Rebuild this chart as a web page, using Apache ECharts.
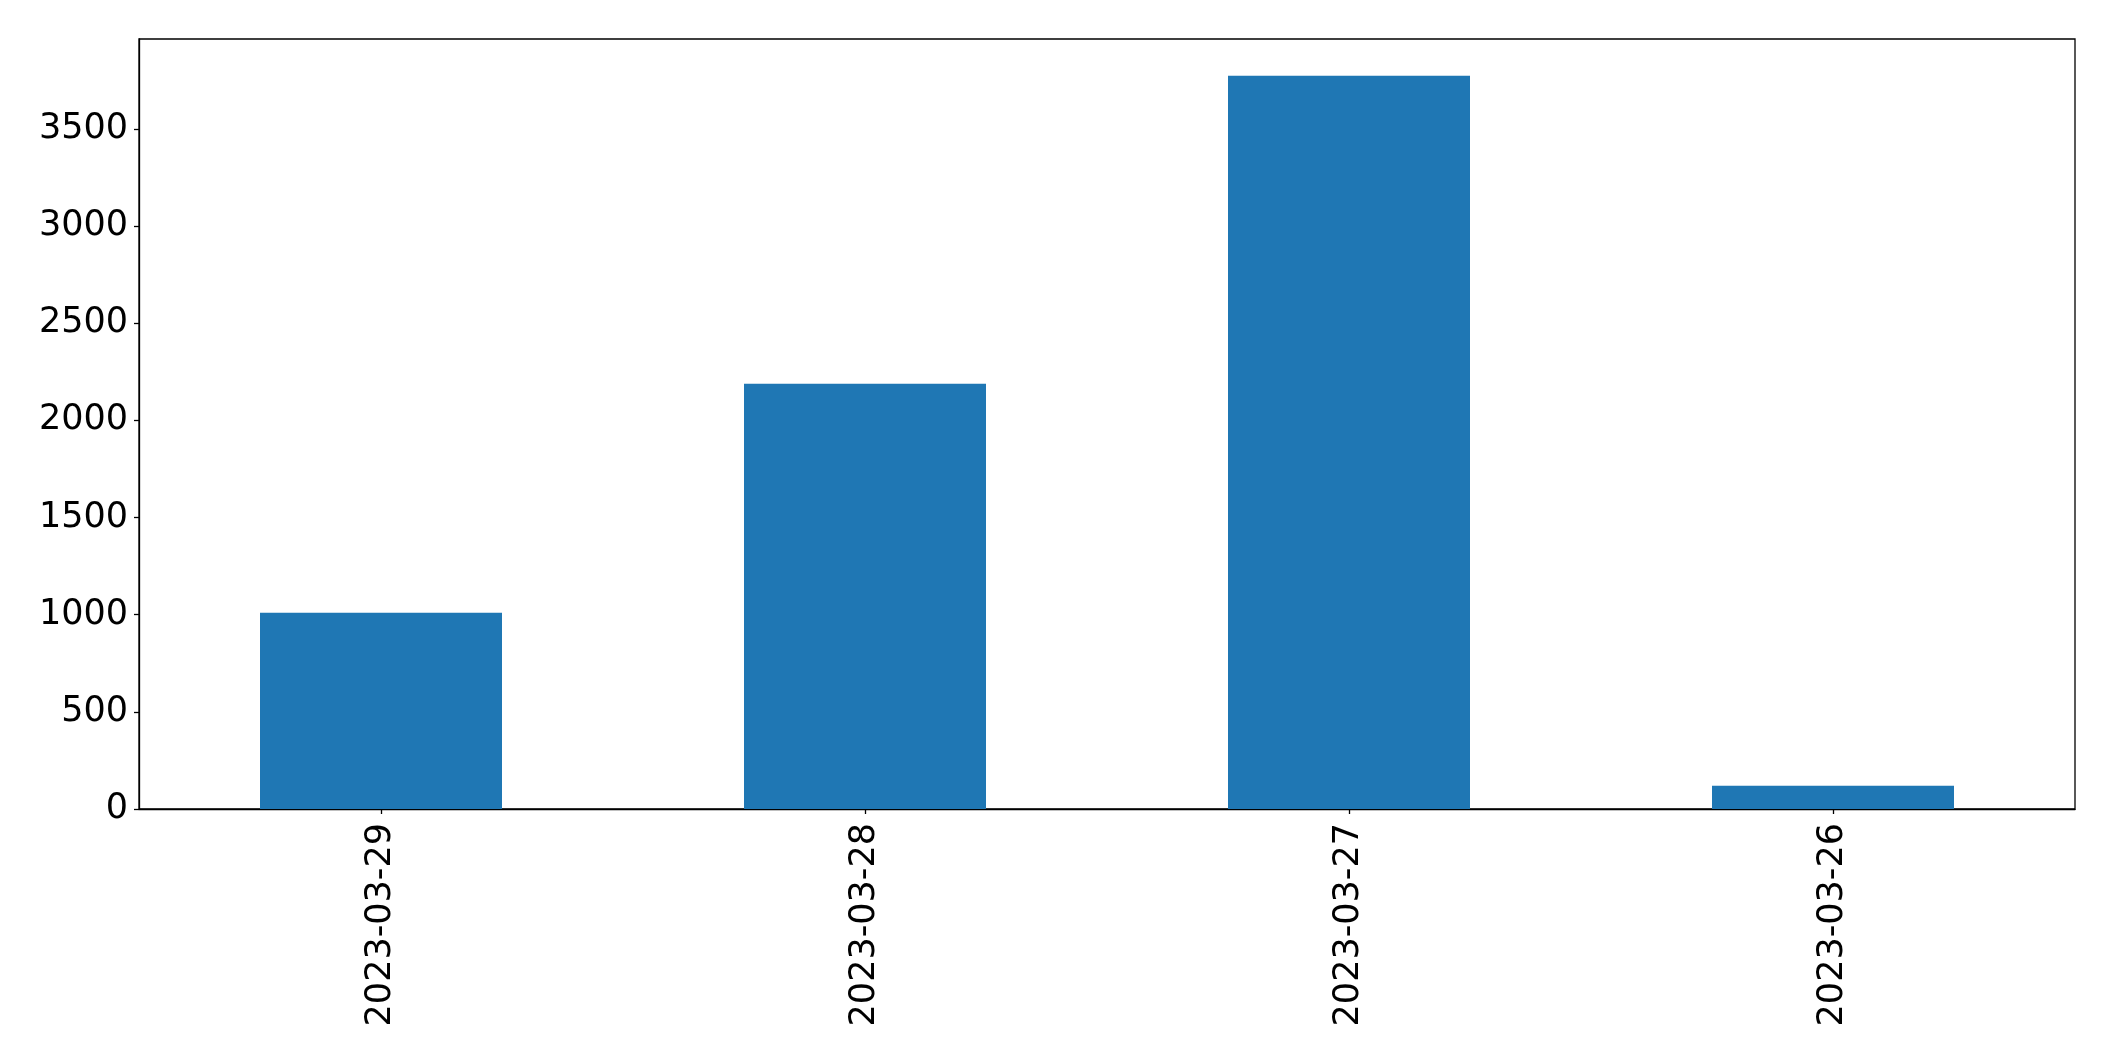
<!DOCTYPE html>
<html>
<head>
<meta charset="utf-8">
<script src="https://cdn.jsdelivr.net/npm/echarts@6/dist/echarts.min.js"></script>
<style>
html,body{margin:0;padding:0;background:#fff;}
#chart{width:2115px;height:1061px;}
</style>
</head>
<body>
<div id="chart"></div>
<script>
const categories = ['2023-03-29', '2023-03-28', '2023-03-27', '2023-03-26'];
const values = [1010, 2189, 3774, 120];
const yTicks = [0, 500, 1000, 1500, 2000, 2500, 3000, 3500];

const chart = echarts.init(document.getElementById('chart'), null, {renderer: 'canvas'});
chart.setOption({
  animation: false,
  backgroundColor: '#ffffff',
  grid: {
    left: 139, right: 40, top: 39, bottom: 252,
    show: true, borderColor: '#000', borderWidth: 1.3, backgroundColor: 'transparent'
  },
  xAxis: {
    type: 'category',
    data: categories,
    boundaryGap: true,
    axisLine: {show: true, lineStyle: {color: '#000', width: 1.3}},
    axisTick: {show: true, alignWithLabel: true, length: 5, lineStyle: {color: '#000', width: 1.3}},
    axisLabel: {rotate: 90, color: '#000', fontSize: 35, fontFamily: 'DejaVu Sans', margin: 14, interval: 0}
  },
  yAxis: {
    type: 'value',
    min: 0,
    max: 3963,
    interval: 500,
    splitLine: {show: false},
    axisLine: {show: true, lineStyle: {color: '#000', width: 1.3}},
    axisTick: {show: true, length: 5, lineStyle: {color: '#000', width: 1.3}},
    axisLabel: {
      color: '#000', fontSize: 35, fontFamily: 'DejaVu Sans', margin: 11,
      padding: [5, 0, 0, 0],
      showMaxLabel: false,
      formatter: function (v) { return yTicks.indexOf(v) >= 0 ? String(v) : ''; }
    }
  },
  series: [{
    type: 'bar',
    data: values,
    barWidth: '50%',
    itemStyle: {color: '#1f77b4'}
  }]
});
</script>
</body>
</html>
